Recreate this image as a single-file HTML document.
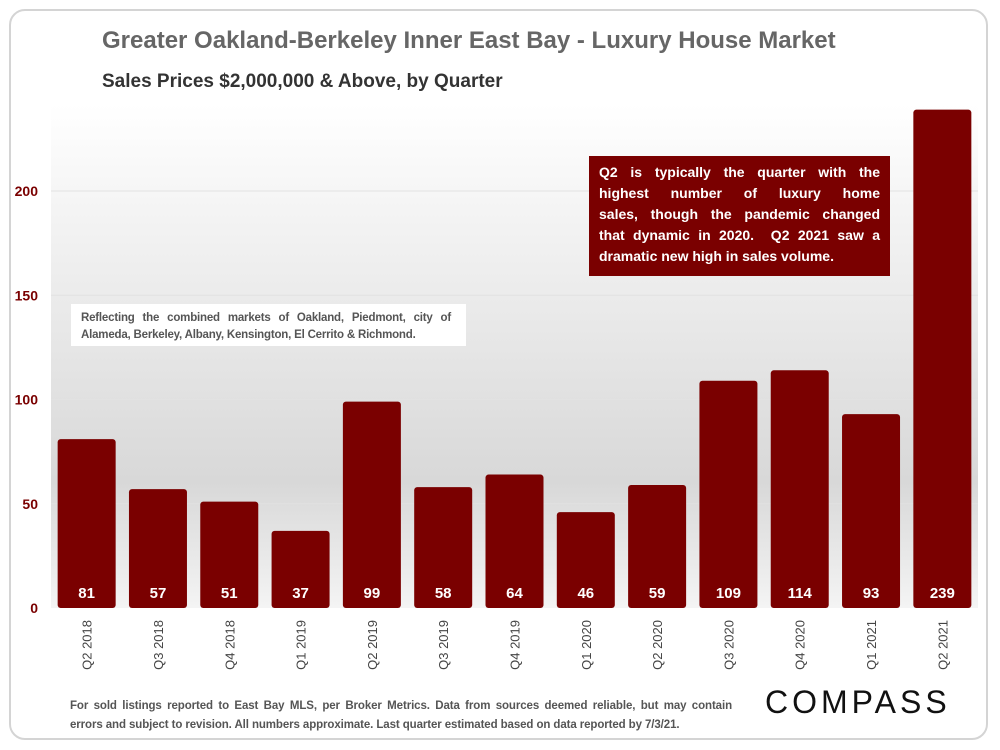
<!DOCTYPE html>
<html><head><meta charset="utf-8"><style>
body{margin:0;width:1000px;height:750px;background:#fff;font-family:"Liberation Sans",sans-serif;overflow:hidden}
#frame{position:absolute;left:9px;top:9px;width:979px;height:731px;border:2px solid #d4d4d4;border-radius:16px;box-sizing:border-box}
.t{position:absolute;font-weight:bold;white-space:nowrap}
.j{display:block;text-align:justify;text-align-last:justify;white-space:nowrap}
.l{display:block;white-space:nowrap}
</style></head><body>
<div id="frame"></div>
<div class="t" style="left:102px;top:27px;font-size:24px;letter-spacing:0px;color:#666">Greater Oakland-Berkeley Inner East Bay - Luxury House Market</div>
<div class="t" style="left:102px;top:71px;font-size:19px;color:#333">Sales Prices $2,000,000 &amp; Above, by Quarter</div>
<svg id="chart" width="1000" height="750" style="position:absolute;left:0;top:0">
<defs><linearGradient id="bg" x1="0" y1="0" x2="0" y2="1"><stop offset="0" stop-color="#ffffff"/><stop offset="0.75" stop-color="#d8d8d8"/><stop offset="1" stop-color="#f4f4f4"/></linearGradient></defs>
<rect x="51" y="104" width="927" height="504" fill="url(#bg)"/>
<g id="grid"></g><g id="bars"></g><g id="labels"></g>
</svg>
<div style="position:absolute;left:71px;top:304px;width:395px;height:42px;background:#fff;font-size:11.5px;font-weight:bold;color:#555;padding:6px 10px;box-sizing:border-box;line-height:17px;letter-spacing:-0.2px"><span class="j" style="width:370px">Reflecting the combined markets of Oakland, Piedmont, city of</span><span class="l">Alameda, Berkeley, Albany, Kensington, El Cerrito &amp; Richmond.</span></div>
<div style="position:absolute;left:589px;top:156px;width:301px;height:120px;background:#7a0000;color:#fff;font-size:14px;font-weight:bold;padding:6px 10px;box-sizing:border-box;line-height:21px"><span class="j">Q2 is typically the quarter with the</span><span class="j">highest number of luxury home</span><span class="j">sales, though the pandemic changed</span><span class="j">that dynamic in 2020.&nbsp; Q2 2021 saw a</span><span class="l">dramatic new high in sales volume.</span></div>
<div style="position:absolute;left:70px;top:697px;width:670px;font-size:11.5px;font-weight:bold;color:#555;line-height:19px;letter-spacing:-0.1px"><span class="j" style="width:662px">For sold listings reported to East Bay MLS, per Broker Metrics. Data from sources deemed reliable, but may contain</span><span class="l">errors and subject to revision. All numbers approximate. Last quarter estimated based on data reported by 7/3/21.</span></div>
<div style="position:absolute;left:765px;top:684px;font-size:32px;letter-spacing:4px;color:#111">COMPASS</div>
<script>
const categories=["Q2 2018","Q3 2018","Q4 2018","Q1 2019","Q2 2019","Q3 2019","Q4 2019","Q1 2020","Q2 2020","Q3 2020","Q4 2020","Q1 2021","Q2 2021"];
const values=[81,57,51,37,99,58,64,46,59,109,114,93,239];
const ticks=[0,50,100,150,200];
const NS="http://www.w3.org/2000/svg";
const x0=51,x1=978,y0=608,pxPer=2.085;
const y=v=>y0-v*pxPer;
const band=(x1-x0)/categories.length;
const xc=i=>x0+band*(i+0.5);
function mk(t,a,p){const e=document.createElementNS(NS,t);for(const k in a)e.setAttribute(k,a[k]);p.appendChild(e);return e;}
const grid=document.getElementById('grid'),bars=document.getElementById('bars'),labels=document.getElementById('labels');
ticks.forEach(v=>{
 if(v>0){const l=mk('line',{x1:x0,x2:x1,y1:y(v),y2:y(v),stroke:'#e2e2e2'},grid);
 
 }
 const t=mk('text',{x:38,y:y(v)+5,'text-anchor':'end','font-size':14,'font-weight':'bold',fill:'#7a0000','font-family':'Liberation Sans'},labels);
 t.textContent=v;
 
 
});
values.forEach((v,i)=>{
 const w=58,top=Math.max(y(v),104);
 const r=mk('rect',{x:xc(i)-w/2,y:top,width:w,height:y0-top,rx:3,fill:'#7a0000'},bars);
 
 
 const t=mk('text',{x:xc(i),y:y0-10,'text-anchor':'middle','font-size':15,'font-weight':'bold',fill:'#fff','font-family':'Liberation Sans'},labels);
 t.textContent=v;
 
 
 const c=mk('text',{x:0,y:0,'text-anchor':'end','font-size':13,fill:'#444','font-family':'Liberation Sans',transform:`translate(${xc(i)+5},${y0+12}) rotate(-90)`},labels);
 c.textContent=categories[i];
 
 
});
</script>
</body></html>
